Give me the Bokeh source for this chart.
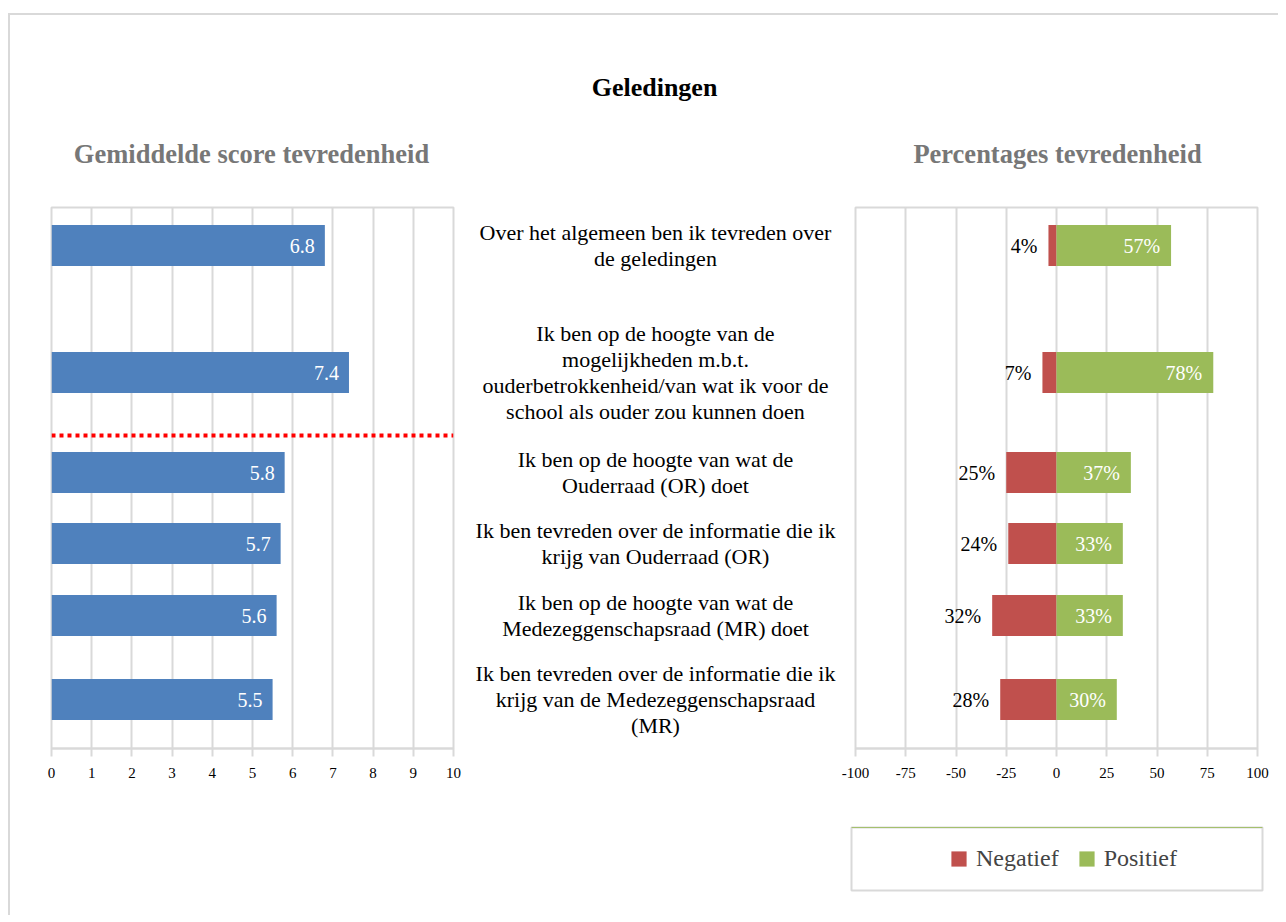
from bokeh.plotting import figure
from bokeh.layouts import column, row
from bokeh.models import (Range1d, FixedTicker, ColumnDataSource, Legend,
                          LegendItem, Span, Spacer)
from bokeh.core.properties import value
from bokeh.embed import file_html
from bokeh.resources import INLINE

# ---------------- data ----------------
questions = [
    "Over het algemeen ben ik tevreden over\nde geledingen",
    "Ik ben op de hoogte van de\nmogelijkheden m.b.t.\nouderbetrokkenheid/van wat ik voor de\nschool als ouder zou kunnen doen",
    "Ik ben op de hoogte van wat de\nOuderraad (OR) doet",
    "Ik ben tevreden over de informatie die ik\nkrijg van Ouderraad (OR)",
    "Ik ben op de hoogte van wat de\nMedezeggenschapsraad (MR) doet",
    "Ik ben tevreden over de informatie die ik\nkrijg van de Medezeggenschapsraad\n(MR)",
]
mean_scores = [6.8, 7.4, 5.8, 5.7, 5.6, 5.5]
pct_negative = [4, 7, 25, 24, 32, 28]
pct_positive = [57, 78, 37, 33, 33, 30]
score_ticks = [0, 1, 2, 3, 4, 5, 6, 7, 8, 9, 10]
pct_ticks = [-100, -75, -50, -25, 0, 25, 50, 75, 100]
series_names = ["Negatief", "Positief"]

main_title = "Geledingen"
left_title = "Gemiddelde score tevredenheid"
right_title = "Percentages tevredenheid"

# ---------------- layout (pixels) ----------------
FRAME_H = 541
ROW_Y = [38, 165, 265, 336, 408, 492]   # row centres, px from top of plot area
BAR_H = 41
SEP_Y = 228

FONT = value("Liberation Serif")
GRID = "#d9d9d9"
BLUE, RED, GREEN = "#4F81BD", "#C0504D", "#9BBB59"
SUB_GREY = "#777777"

TOP_B, BOT_B = 5, 54
FIG_H = TOP_B + FRAME_H + BOT_B

yr = Range1d(FRAME_H, 0)


def base_fig(width, xr, left, right):
    p = figure(width=width, height=FIG_H, x_range=xr, y_range=yr,
               output_backend="svg", toolbar_location=None,
               min_border_left=left, min_border_right=right,
               min_border_top=TOP_B, min_border_bottom=BOT_B)
    p.background_fill_color = "white"
    p.border_fill_color = "white"
    return p


def style_axis(p, ticks):
    p.yaxis.visible = False
    p.ygrid.visible = False
    ax = p.xaxis[0]
    ax.ticker = FixedTicker(ticks=ticks)
    ax.major_label_overrides = {t: str(t) for t in ticks}
    ax.axis_line_color = GRID
    ax.axis_line_width = 2
    ax.major_tick_line_color = GRID
    ax.major_tick_line_width = 2
    ax.major_tick_out = 8
    ax.major_tick_in = 0
    ax.minor_tick_line_color = None
    ax.major_label_text_font = "Liberation Serif"
    ax.major_label_text_font_size = "15px"
    ax.major_label_text_color = "black"
    ax.major_label_standoff = 11
    p.xgrid.ticker = FixedTicker(ticks=ticks)
    p.xgrid.grid_line_color = GRID
    p.xgrid.grid_line_width = 2
    p.outline_line_color = GRID
    p.outline_line_width = 2


# ---------------- left chart ----------------
src_l = ColumnDataSource(dict(
    y=ROW_Y, v=mean_scores, lab=[f"{v:.1f}" for v in mean_scores]))
left = base_fig(460, Range1d(0, 10), 41, 17)
style_axis(left, score_ticks)
left.hbar(y="y", right="v", left=0, height=BAR_H, source=src_l,
          fill_color=BLUE, line_color=None)
left.text(x="v", y="y", text="lab", source=src_l, x_offset=-10,
          text_align="right", text_baseline="middle", text_color="white",
          text_font=FONT, text_font_size="20px")
left.add_layout(Span(location=SEP_Y, dimension="width", line_color="#FF0000",
                     line_width=4, line_dash="4 4"))

# ---------------- middle labels ----------------
src_m = ColumnDataSource(dict(y=ROW_Y, q=questions, x=[185] * len(questions)))
mid = base_fig(370, Range1d(0, 370), 0, 0)
mid.xaxis.visible = False
mid.yaxis.visible = False
mid.grid.visible = False
mid.outline_line_color = None
mid.text(x="x", y="y", text="q", source=src_m, text_align="center",
         text_baseline="middle", text_font=FONT, text_font_size="22px",
         text_color="black", text_line_height=1.04)

# ---------------- right chart ----------------
src_r = ColumnDataSource(dict(
    y=ROW_Y,
    neg=[-v for v in pct_negative],
    pos=pct_positive,
    neg_lab=[f"{v}%" for v in pct_negative],
    pos_lab=[f"{v}%" for v in pct_positive]))
right = base_fig(438, Range1d(-100, 100), 15, 21)
style_axis(right, pct_ticks)
right.hbar(y="y", left="neg", right=0, height=BAR_H, source=src_r,
           fill_color=RED, line_color=None)
right.hbar(y="y", left=0, right="pos", height=BAR_H, source=src_r,
           fill_color=GREEN, line_color=None)
right.text(x="neg", y="y", text="neg_lab", source=src_r, x_offset=-11,
           text_align="right", text_baseline="middle", text_color="black",
           text_font=FONT, text_font_size="20px")
right.text(x="pos", y="y", text="pos_lab", source=src_r, x_offset=-11,
           text_align="right", text_baseline="middle", text_color="white",
           text_font=FONT, text_font_size="20px")

# ---------------- header ----------------
HEAD_H = 187
head = figure(width=1268, height=HEAD_H, x_range=Range1d(0, 1268),
              y_range=Range1d(HEAD_H, 0), output_backend="svg",
              toolbar_location=None, x_axis_type=None, y_axis_type=None,
              min_border=0)
head.grid.visible = False
head.outline_line_color = None
head.text(x=[644], y=[72], text=[main_title], text_align="center",
          text_baseline="middle", text_font=FONT, text_font_size="26px",
          text_font_style="bold", text_color="black")
head.text(x=[241, 1047], y=[138, 138], text=[left_title, right_title],
          text_align="center", text_baseline="middle", text_font=FONT,
          text_font_size="26.5px", text_font_style="bold", text_color=SUB_GREY)

# ---------------- legend ----------------
# legend swatches: the series are drawn again here, outside the visible range
leg = figure(width=415, height=93, x_range=Range1d(0, 1), y_range=Range1d(-1, 0),
             output_backend="svg", toolbar_location=None, x_axis_type=None,
             y_axis_type=None, min_border_left=2, min_border_right=2,
             min_border_top=25, min_border_bottom=5)
leg.grid.visible = False
leg.outline_line_color = GRID
leg.outline_line_width = 2
d_neg = leg.hbar(y="y", left="neg", right=0, height=BAR_H, source=src_r,
                 fill_color=RED, line_color=None)
d_pos = leg.hbar(y="y", left=0, right="pos", height=BAR_H, source=src_r,
                 fill_color=GREEN, line_color=None)
legend = Legend(items=[LegendItem(label=series_names[0], renderers=[d_neg]),
                       LegendItem(label=series_names[1], renderers=[d_pos])],
                location=(98, 18), orientation="horizontal",
                border_line_color=None, background_fill_alpha=0,
                label_text_font="Liberation Serif", label_text_font_size="24px",
                glyph_width=19, glyph_height=19, label_standoff=8, spacing=18,
                padding=0, margin=0)
leg.add_layout(legend, "center")

layout = column(
    head,
    row(left, mid, right, spacing=0),
    row(Spacer(width=839, height=93), leg, spacing=0),
    Spacer(width=10, height=20),
    spacing=0,
    styles={"border-top": "2px solid #d9d9d9", "border-left": "2px solid #d9d9d9",
            "margin-top": "13px", "margin-left": "8px"},
)

open("out.html", "w").write(file_html(layout, INLINE))
